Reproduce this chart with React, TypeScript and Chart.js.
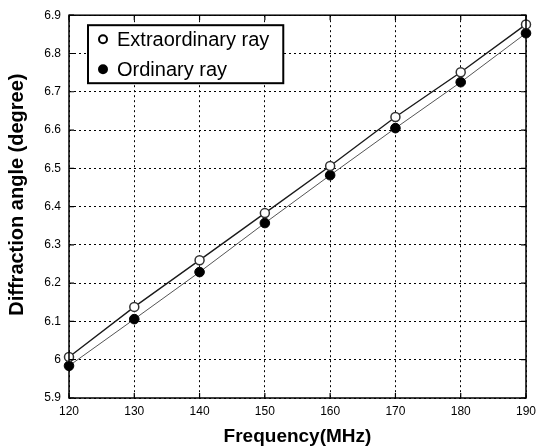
import React, { useEffect, useRef } from "react";
import { Chart, registerables } from "chart.js";

Chart.register(...registerables);

const frequencies = [120, 130, 140, 150, 160, 170, 180, 190];
const extraordinary = [6.007, 6.138, 6.26, 6.383, 6.506, 6.634, 6.751, 6.876];
const ordinary = [5.984, 6.106, 6.229, 6.357, 6.482, 6.605, 6.725, 6.853];
const xTicks = [120, 130, 140, 150, 160, 170, 180, 190];
const yTicks = [5.9, 6.0, 6.1, 6.2, 6.3, 6.4, 6.5, 6.6, 6.7, 6.8, 6.9];
const yTickLabels = ["5.9", "6", "6.1", "6.2", "6.3", "6.4", "6.5", "6.6", "6.7", "6.8", "6.9"];
const seriesLabels = ["Extraordinary ray", "Ordinary ray"];
const xTitle = "Frequency(MHz)";
const yTitle = "Diffraction angle (degree)";

const FONT = "'Liberation Sans', Arial, sans-serif";

const framePlugin = {
  id: "frame",
  afterDraw(chart: any) {
    const { ctx, chartArea: a, scales } = chart;
    ctx.save();
    // plot box
    ctx.strokeStyle = "#000";
    ctx.lineWidth = 1.5;
    ctx.strokeRect(a.left, a.top, a.right - a.left, a.bottom - a.top);
    // inward ticks on all sides
    ctx.lineWidth = 1.2;
    const tl = 5;
    ctx.beginPath();
    for (const t of scales.x.ticks) {
      const x = scales.x.getPixelForValue(t.value);
      ctx.moveTo(x, a.bottom);
      ctx.lineTo(x, a.bottom - tl);
      ctx.moveTo(x, a.top);
      ctx.lineTo(x, a.top + tl);
    }
    for (const t of scales.y.ticks) {
      const y = scales.y.getPixelForValue(t.value);
      ctx.moveTo(a.left, y);
      ctx.lineTo(a.left + tl, y);
      ctx.moveTo(a.right, y);
      ctx.lineTo(a.right - tl, y);
    }
    ctx.stroke();

    // y axis title
    ctx.save();
    ctx.translate(17, (a.top + a.bottom) / 2 - 12);
    ctx.rotate(-Math.PI / 2);
    ctx.font = `bold 20px ${FONT}`;
    ctx.textAlign = "center";
    ctx.textBaseline = "middle";
    ctx.fillStyle = "#000";
    ctx.fillText(yTitle, 0, 0);
    ctx.restore();

    // legend box inside the plot
    ctx.font = `20px ${FONT}`;
    const ds = chart.data.datasets;
    let maxW = 0;
    for (const d of ds) maxW = Math.max(maxW, ctx.measureText(d.label).width);
    const bx = a.left + 19;
    const by = a.top + 10;
    const bw = 29 + maxW + 14;
    const bh = 58;
    ctx.fillStyle = "#fff";
    ctx.fillRect(bx, by, bw, bh);
    ctx.strokeStyle = "#000";
    ctx.lineWidth = 2;
    ctx.strokeRect(bx, by, bw, bh);
    ds.forEach((d: any, i: number) => {
      const cy = by + 14 + i * 30;
      ctx.beginPath();
      ctx.arc(bx + 15, cy, 4, 0, Math.PI * 2);
      ctx.fillStyle = d.pointBackgroundColor;
      ctx.fill();
      ctx.lineWidth = 2;
      ctx.strokeStyle = "#000";
      ctx.stroke();
      ctx.fillStyle = "#000";
      ctx.textAlign = "left";
      ctx.textBaseline = "middle";
      ctx.fillText(d.label, bx + 29, cy + 1);
    });
    ctx.restore();
  },
};

export default function App() {
  const ref = useRef<HTMLCanvasElement | null>(null);

  useEffect(() => {
    document.body.style.margin = "0";
    const canvas = ref.current;
    if (!canvas) return;
    const chart = new Chart(canvas, {
      type: "scatter",
      data: {
        datasets: [
          {
            label: seriesLabels[0],
            data: frequencies.map((f, i) => ({ x: f, y: extraordinary[i] })),
            showLine: true,
            borderColor: "#1a1a1a",
            borderWidth: 1.4,
            pointRadius: 4.5,
            pointBorderWidth: 1.5,
            pointBackgroundColor: "#ffffff",
            pointBorderColor: "#333333",
            clip: false,
            order: 0,
          } as any,
          {
            label: seriesLabels[1],
            data: frequencies.map((f, i) => ({ x: f, y: ordinary[i] })),
            showLine: true,
            borderColor: "#555555",
            borderWidth: 1,
            pointRadius: 4.8,
            pointBorderWidth: 1,
            pointBackgroundColor: "#000000",
            pointBorderColor: "#000000",
            clip: false,
            order: 1,
          } as any,
        ],
      },
      options: {
        responsive: false,
        animation: false,
        layout: { padding: { top: 15, right: 21, left: 0, bottom: 0 } },
        plugins: {
          legend: { display: false },
          tooltip: { enabled: false },
        },
        scales: {
          x: {
            type: "linear",
            min: 120,
            max: 190,
            afterBuildTicks: (s: any) => {
              s.ticks = xTicks.map((v) => ({ value: v }));
            },
            afterFit: (s: any) => {
              s.height = 50;
            },
            ticks: {
              color: "#000",
              font: { family: FONT, size: 12 },
              padding: 6,
              maxRotation: 0,
              autoSkip: false,
            },
            grid: { color: "#000", lineWidth: 1, drawTicks: false },
            border: { display: false, dash: [2, 3] },
            title: {
              display: true,
              text: xTitle,
              color: "#000",
              font: { family: FONT, size: 19, weight: "bold" },
              padding: { top: 0, bottom: 0 },
            },
          },
          y: {
            type: "linear",
            min: 5.9,
            max: 6.9,
            afterBuildTicks: (s: any) => {
              s.ticks = yTicks.map((v) => ({ value: v }));
            },
            afterFit: (s: any) => {
              s.width = 69;
            },
            ticks: {
              color: "#000",
              font: { family: FONT, size: 12 },
              padding: 8,
              autoSkip: false,
              callback: (_v: any, i: number) => yTickLabels[i],
            },
            grid: { color: "#000", lineWidth: 1, drawTicks: false },
            border: { display: false, dash: [2, 3] },
          },
        },
      },
      plugins: [framePlugin],
    });
    return () => chart.destroy();
  }, []);

  return (
    <div style={{ width: 547, height: 448, background: "#fff" }}>
      <canvas ref={ref} width={547} height={448} />
    </div>
  );
}
